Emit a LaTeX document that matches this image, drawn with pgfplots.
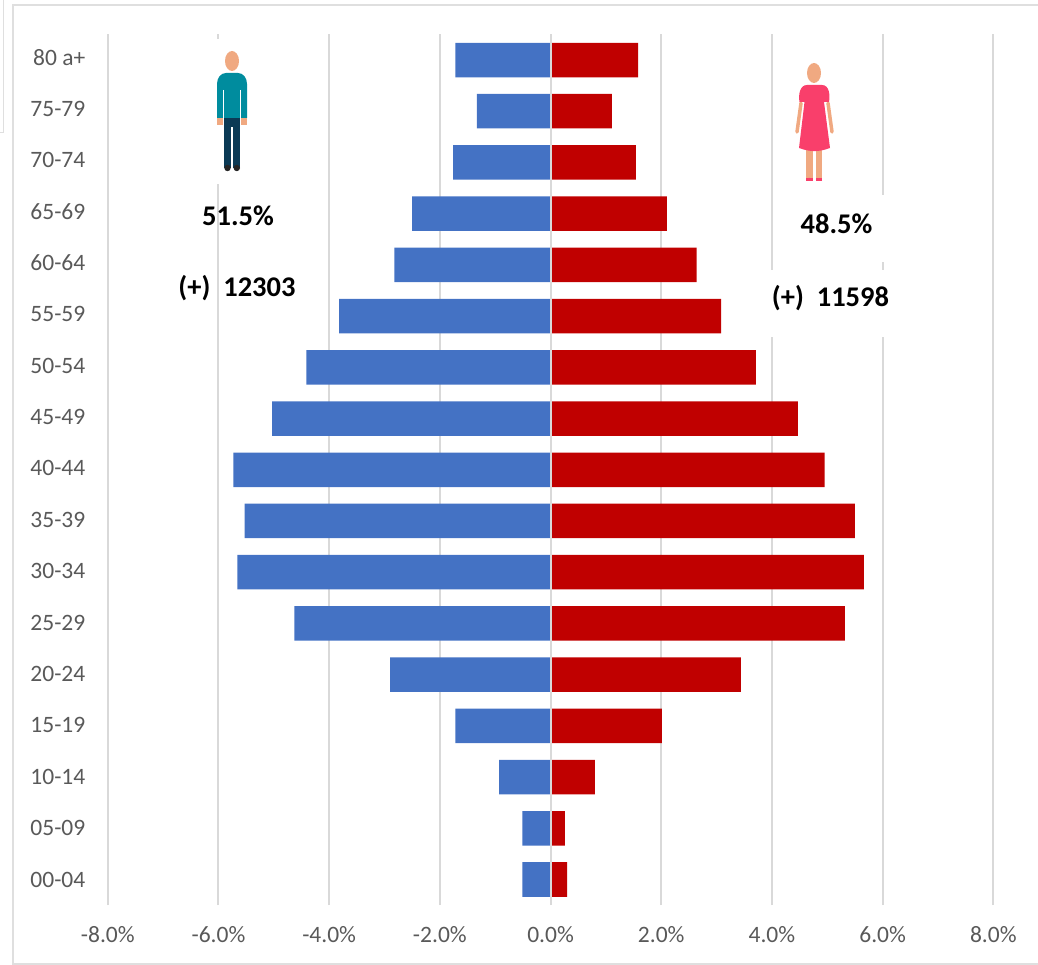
\documentclass[border=0pt]{standalone}
\usepackage{pgfplots}
\usepackage{pgfplotstable}
\usepackage{fontspec}
\setmainfont{Carlito}
\pgfplotsset{compat=1.18}
\definecolor{gridc}{HTML}{D9D9D9}
\definecolor{txt}{HTML}{595959}
\definecolor{mbar}{HTML}{4472C4}
\definecolor{fbar}{HTML}{C00000}
\definecolor{skin}{HTML}{F0A981}
\definecolor{teal}{HTML}{008C9E}
\definecolor{navy}{HTML}{0B3A55}
\definecolor{pinkd}{HTML}{F93F6B}
\pgfplotstableread{
pos male female
0 -0.51 0.30
1 -0.51 0.26
2 -0.93 0.80
3 -1.72 2.01
4 -2.90 3.44
5 -4.63 5.32
6 -5.66 5.66
7 -5.53 5.50
8 -5.73 4.95
9 -5.03 4.47
10 -4.41 3.71
11 -3.82 3.08
12 -2.82 2.64
13 -2.50 2.10
14 -1.76 1.54
15 -1.33 1.11
16 -1.72 1.58
}\pyr
\begin{document}
\begin{tikzpicture}[x=1pt,y=-1pt]
\path[use as bounding box] (0,0) rectangle (1038,965);
\draw[line width=2pt,color=gray!25] (1038,5) -- (13,5) -- (13,964) -- (1038,964);
\draw[line width=1pt,color=gray!25] (0,133) -- (3,133) -- (3,0);
\begin{axis}[
  at={(107.8pt,-905.1pt)},anchor=south west,
  scale only axis,width=885.5pt,height=870.7pt,
  xmin=-8,xmax=8,ymin=-0.5,ymax=16.5,
  axis line style={draw=none},
  major tick length=0pt,
  xtick={-8,-6,-4,-2,0,2,4,6,8},
  xticklabels={-8.0\%,-6.0\%,-4.0\%,-2.0\%,0.0\%,2.0\%,4.0\%,6.0\%,8.0\%},
  ytick={0,1.003,2.007,3.010,4.014,5.017,6.020,7.024,8.027,9.031,10.034,11.037,12.041,13.044,14.048,15.051,16.054},
  yticklabels={00-04,05-09,10-14,15-19,20-24,25-29,30-34,35-39,40-44,45-49,50-54,55-59,60-64,65-69,70-74,75-79,80 a+},
  tick label style={font=\fontsize{23.5}{28}\selectfont,text=txt},
  yticklabel style={xshift=-19pt},
  xticklabel style={yshift=-18pt},
  xmajorgrids,
  grid style={gridc,line width=2pt},
  clip=false,
]
\addplot[xbar,bar width=34.5pt,bar shift=0pt,fill=mbar,draw=none] table[x=male,y=pos] {\pyr};
\addplot[xbar,bar width=34.5pt,bar shift=0pt,fill=fbar,draw=none] table[x=female,y=pos] {\pyr};
\addplot[gridc,line width=2pt] coordinates {(0,-0.5) (0,16.5)};
\end{axis}
% white patches of the pictures over the gridlines
\fill[white] (214,39) rectangle (222,184);
\fill[white] (767,270) rectangle (890,337);
\fill[white] (878,195) rectangle (890,262);
% man
\fill[skin] (232,61) ellipse [x radius=7,y radius=10];
\fill[skin] (217,118) rectangle (223,125);
\fill[skin] (241,118) rectangle (247,125);
\fill[navy] (224,116) rectangle (240,168);
\fill[white] (231.2,127) rectangle (232.8,170);
\fill[black!85] (227.5,168) circle (3.2);
\fill[black!85] (236.8,168) circle (3.2);
\fill[teal] (217,118) -- (217,84) to[out=90,in=180] (226,73) -- (238,73) to[out=0,in=90] (247,84) -- (247,118) -- (224,118) -- cycle;
\draw[white,line width=0.8pt] (223.5,90) -- (223.5,118);
\draw[white,line width=0.8pt] (240.5,90) -- (240.5,118);
% woman
\fill[skin] (814,73) ellipse [x radius=7,y radius=10];
\draw[skin,line width=3.5pt,line cap=round] (801,103) -- (797,132);
\draw[skin,line width=3.5pt,line cap=round] (828,103) -- (832,132);
\fill[skin] (806,148) rectangle (812.5,178);
\fill[skin] (816,148) rectangle (822,178);
\fill[pinkd] (806,178) rectangle (812.5,181);
\fill[pinkd] (806,181) arc[start angle=180,end angle=360,radius=3.2];
\fill[pinkd] (816,178) rectangle (822,181);
\fill[pinkd] (816,181) arc[start angle=180,end angle=360,radius=3];
\fill[pinkd] (799.5,102) to[out=100,in=180] (807,85) -- (822,85) to[out=0,in=80] (829,102) -- (824,102) -- (830,148) to[out=200,in=-20] (799,148) -- (804.5,102) -- cycle;
% texts
\node[font=\fontsize{28.5}{32}\selectfont\bfseries,inner sep=0pt] at (238,215.5) {51.5\%};
\node[font=\fontsize{28.5}{32}\selectfont\bfseries,inner sep=0pt] at (237,288) {(+)\ \ 12303};
\node[font=\fontsize{28.5}{32}\selectfont\bfseries,inner sep=0pt] at (836.5,224) {48.5\%};
\node[font=\fontsize{28.5}{32}\selectfont\bfseries,inner sep=0pt] at (830.5,298) {(+)\ \ 11598};
\end{tikzpicture}
\end{document}
